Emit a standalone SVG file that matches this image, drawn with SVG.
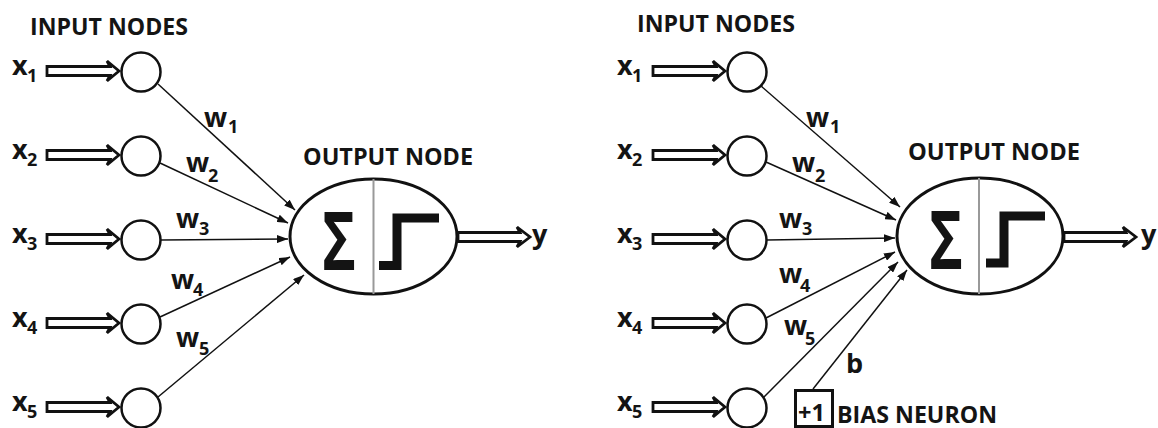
<svg xmlns="http://www.w3.org/2000/svg" width="1158" height="428" viewBox="0 0 1158 428">
<style>
text{font-family:"Open Sans","Liberation Sans",sans-serif;font-weight:700;fill:#141414}
.h{font-size:24px}
.v{font-size:27px}
.s{font-size:18px}
.in{fill:#fff;stroke:#111;stroke-width:2.5}
.dbl{fill:#fff;stroke:#111;stroke-width:2.8;stroke-linejoin:miter}
.ell{fill:#fff;stroke:#111;stroke-width:3}
.div{stroke:#999;stroke-width:2}
.step{fill:none;stroke:#111;stroke-width:9;stroke-linejoin:miter;stroke-linecap:butt}
.sig{font-size:80px}
.con line{stroke:#111;stroke-width:1.5;marker-end:url(#ah)}
</style>
<defs>
<marker id="ah" markerUnits="userSpaceOnUse" markerWidth="12" markerHeight="8" refX="11" refY="4" orient="auto">
<path d="M0,0 L11,4 L0,8 z" fill="#111"/>
</marker>
<path id="da" d="M0,-4.5 L63,-4.5 L60,-10 L72,0 L60,10 L63,4.5 L0,4.5 z"/>
<path id="oa" d="M0,-4.5 L62,-4.5 L59,-10 L72,0 L59,10 L62,4.5 L0,4.5 z"/>
</defs>

<!-- LEFT DIAGRAM -->
<text id="l-title-in" class="h" x="30" y="35" textLength="158" lengthAdjust="spacingAndGlyphs">INPUT NODES</text>
<text id="l-title-out" class="h" x="303" y="165" textLength="170" lengthAdjust="spacingAndGlyphs">OUTPUT NODE</text>

<g id="l-in1"><text class="v" x="12" y="75">x</text><text class="s" x="27" y="82">1</text><use href="#da" class="dbl" x="47" y="71"/><circle class="in" cx="141" cy="72" r="19.5"/></g>
<g id="l-in2"><text class="v" x="12" y="159">x</text><text class="s" x="27" y="166">2</text><use href="#da" class="dbl" x="47" y="155"/><circle class="in" cx="141" cy="156" r="19.5"/></g>
<g id="l-in3"><text class="v" x="12" y="243">x</text><text class="s" x="27" y="250">3</text><use href="#da" class="dbl" x="47" y="239"/><circle class="in" cx="141" cy="240" r="19.5"/></g>
<g id="l-in4"><text class="v" x="12" y="327">x</text><text class="s" x="27" y="334">4</text><use href="#da" class="dbl" x="47" y="323"/><circle class="in" cx="141" cy="324" r="19.5"/></g>
<g id="l-in5"><text class="v" x="12" y="411">x</text><text class="s" x="27" y="418">5</text><use href="#da" class="dbl" x="47" y="407"/><circle class="in" cx="141" cy="408" r="19.5"/></g>

<g id="l-out">
<ellipse class="ell" cx="373.5" cy="236.5" rx="83.5" ry="57.5"/>
<line class="div" x1="373.5" y1="179" x2="373.5" y2="294"/>
<text class="sig" x="322" y="270" textLength="34" lengthAdjust="spacingAndGlyphs">Σ</text>
<polyline class="step" points="379,265.5 397,265.5 397,218 439,218"/>
<use href="#oa" class="dbl" x="458" y="237"/>
<text class="v" x="532" y="244">y</text>
</g>

<g id="l-connectors" class="con">
<line x1="158" y1="84" x2="295" y2="210"/>
<line x1="160" y1="163" x2="288" y2="223"/>
<line x1="161" y1="240" x2="288" y2="239"/>
<line x1="160" y1="317" x2="290" y2="257"/>
<line x1="158" y1="397" x2="304" y2="275"/>
</g>
<g id="l-weights">
<text class="v" x="204" y="127">w</text><text class="s" x="228" y="133">1</text>
<text class="v" x="186" y="172">w</text><text class="s" x="208" y="182">2</text>
<text class="v" x="176" y="228">w</text><text class="s" x="199" y="235">3</text>
<text class="v" x="171" y="289">w</text><text class="s" x="193" y="296">4</text>
<text class="v" x="176" y="347">w</text><text class="s" x="199" y="355">5</text>
</g>

<!-- RIGHT DIAGRAM -->
<text id="r-title-in" class="h" x="637" y="32" textLength="158" lengthAdjust="spacingAndGlyphs">INPUT NODES</text>
<text id="r-title-out" class="h" x="908" y="160" textLength="172" lengthAdjust="spacingAndGlyphs">OUTPUT NODE</text>

<g id="r-in1"><text class="v" x="617" y="75">x</text><text class="s" x="632" y="82">1</text><use href="#da" class="dbl" x="653" y="71"/><circle class="in" cx="747" cy="72" r="19.5"/></g>
<g id="r-in2"><text class="v" x="617" y="159">x</text><text class="s" x="632" y="166">2</text><use href="#da" class="dbl" x="653" y="155"/><circle class="in" cx="747" cy="156" r="19.5"/></g>
<g id="r-in3"><text class="v" x="617" y="243">x</text><text class="s" x="632" y="250">3</text><use href="#da" class="dbl" x="653" y="239"/><circle class="in" cx="747" cy="240" r="19.5"/></g>
<g id="r-in4"><text class="v" x="617" y="327">x</text><text class="s" x="632" y="334">4</text><use href="#da" class="dbl" x="653" y="323"/><circle class="in" cx="747" cy="324" r="19.5"/></g>
<g id="r-in5"><text class="v" x="617" y="411">x</text><text class="s" x="632" y="418">5</text><use href="#da" class="dbl" x="653" y="407"/><circle class="in" cx="747" cy="408" r="19.5"/></g>

<g id="r-out">
<ellipse class="ell" cx="980" cy="236" rx="83" ry="58"/>
<line class="div" x1="979" y1="178" x2="979" y2="294"/>
<text class="sig" x="929" y="269" textLength="34" lengthAdjust="spacingAndGlyphs">Σ</text>
<polyline class="step" points="986,263 1004,263 1004,216 1045,216"/>
<use href="#oa" class="dbl" x="1064" y="237"/>
<text class="v" x="1141" y="244">y</text>
</g>

<g id="r-bias">
<rect x="795.5" y="390.5" width="37" height="36" fill="#fff" stroke="#111" stroke-width="3"/>
<text x="798" y="421" style="font-size:23px" textLength="27" lengthAdjust="spacingAndGlyphs">+1</text>
<text class="h" x="837" y="423" textLength="160" lengthAdjust="spacingAndGlyphs">BIAS NEURON</text>
</g>

<g id="r-connectors" class="con">
<line x1="761" y1="86" x2="900" y2="207"/>
<line x1="766" y1="162" x2="896" y2="220"/>
<line x1="767" y1="240" x2="895" y2="238"/>
<line x1="766" y1="318" x2="895" y2="252"/>
<line x1="764" y1="397" x2="898" y2="262"/>
<line x1="813" y1="389" x2="907" y2="270"/>
</g>
<g id="r-weights">
<text class="v" x="806" y="127">w</text><text class="s" x="830" y="133">1</text>
<text class="v" x="792" y="172">w</text><text class="s" x="815" y="182">2</text>
<text class="v" x="779" y="228">w</text><text class="s" x="802" y="235">3</text>
<text class="v" x="779" y="283">w</text><text class="s" x="800" y="292">4</text>
<text class="v" x="784" y="335">w</text><text class="s" x="805" y="345">5</text>
<text class="v" x="846" y="373">b</text>
</g>
</svg>
